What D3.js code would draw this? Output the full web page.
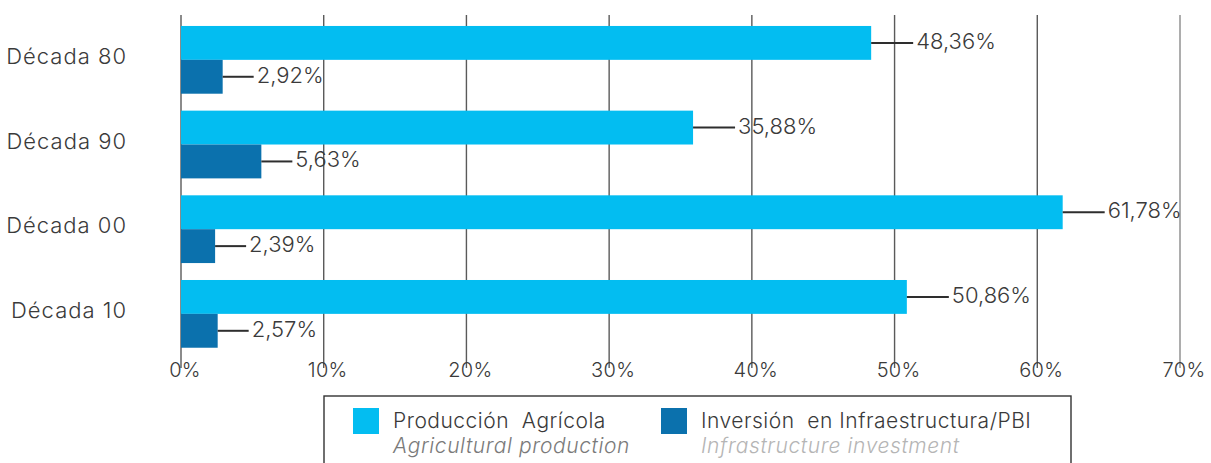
<!DOCTYPE html>
<html>
<head>
<meta charset="utf-8">
<script src="https://cdn.jsdelivr.net/npm/d3@7"></script>
<style>
  html, body { margin: 0; padding: 0; background: #fff; }
  svg text { font-family: "Inter", "Open Sans", sans-serif; font-weight: 300; }
</style>
</head>
<body>
<svg id="chart" width="1211" height="463"></svg>
<script>
// Decades shown on the vertical axis
const categories = ["Década 80", "Década 90", "Década 00", "Década 10"];
// Agricultural production share (%)
const agricola = [48.36, 35.88, 61.78, 50.86];
// Infrastructure investment / GDP (%)
const infraestructura = [2.92, 5.63, 2.39, 2.57];
// Horizontal axis ticks (%)
const ticks = [0, 10, 20, 30, 40, 50, 60, 70];

const series = [
  { key: "agricola", values: agricola, color: "#03bdf1", leader: 42,
    name: "Producción  Agrícola", sub: "Agricultural production", subColor: "#7a7a7a" },
  { key: "infra", values: infraestructura, color: "#0b71ad", leader: 31,
    name: "Inversión  en Infraestructura/PBI", sub: "Infrastructure investment", subColor: "#b5b5b5" }
];

const svg = d3.select("#chart");

const x = d3.scaleLinear().domain([0, 70]).range([181, 1180]);
const y = d3.scaleBand().domain(categories).range([17.5, 356.2])
  .paddingInner(0.2).paddingOuter(0.1);
const ySub = d3.scaleBand().domain(series.map(s => s.key)).range([0, y.bandwidth()]);

const fmt = v => d3.format(".2f")(v).replace(".", ",") + "%";

// Vertical gridlines
svg.append("g").selectAll("line").data(ticks).join("line")
  .attr("x1", d => x(d)).attr("x2", d => x(d))
  .attr("y1", 15).attr("y2", 368)
  .attr("stroke", d => d === 70 ? "#8a8a8a" : "#5a5a5a")
  .attr("stroke-width", 1.4);

// Tick labels
svg.append("g").selectAll("text").data(ticks).join("text")
  .attr("x", d => x(d) + 4).attr("y", 377)
  .attr("text-anchor", "middle")
  .attr("font-size", 20).attr("letter-spacing", 0.3).attr("fill", "#3a3a3a")
  .text(d => d + "%");

// Category labels
svg.append("g").selectAll("text").data(categories).join("text")
  .attr("x", 127).attr("y", d => y(d) + y.bandwidth() / 2 + 4)
  .attr("text-anchor", "end")
  .attr("font-size", 22).attr("letter-spacing", 1).attr("fill", "#3a3a3a")
  .text(d => d);

// Bars, leader lines and value labels
series.forEach(s => {
  const g = svg.append("g");
  const rows = categories.map((c, i) => ({ c, v: s.values[i] }));
  const yy = d => y(d.c) + ySub(s.key);
  g.selectAll("rect").data(rows).join("rect")
    .attr("x", x(0)).attr("y", yy)
    .attr("width", d => x(d.v) - x(0))
    .attr("height", ySub.bandwidth())
    .attr("fill", s.color);
  g.selectAll("line").data(rows).join("line")
    .attr("x1", d => x(d.v)).attr("x2", d => x(d.v) + s.leader)
    .attr("y1", d => yy(d) + ySub.bandwidth() / 2)
    .attr("y2", d => yy(d) + ySub.bandwidth() / 2)
    .attr("stroke", "#2e2e2e").attr("stroke-width", 2);
  g.selectAll("text").data(rows).join("text")
    .attr("x", d => x(d.v) + s.leader + 3)
    .attr("y", d => yy(d) + ySub.bandwidth() / 2 + 6)
    .attr("font-size", 22).attr("fill", "#3a3a3a")
    .text(d => fmt(d.v));
});

// Legend
const legend = svg.append("g");
legend.append("rect")
  .attr("x", 324).attr("y", 396).attr("width", 747).attr("height", 100)
  .attr("fill", "#fff").attr("stroke", "#333").attr("stroke-width", 1.4);
const legX = [353, 661];
series.forEach((s, i) => {
  const lg = legend.append("g").attr("transform", `translate(${legX[i]},408)`);
  lg.append("rect").attr("width", 26).attr("height", 26).attr("fill", s.color);
  lg.append("text").attr("x", 40).attr("y", 20)
    .attr("font-size", 21).attr("letter-spacing", 0.5).attr("fill", "#3a3a3a")
    .style("white-space", "pre").text(s.name);
  lg.append("text").attr("x", 40).attr("y", 45)
    .attr("font-size", 21).attr("letter-spacing", 0.6)
    .attr("font-style", "italic").attr("fill", s.subColor)
    .text(s.sub);
});
</script>
</body>
</html>
